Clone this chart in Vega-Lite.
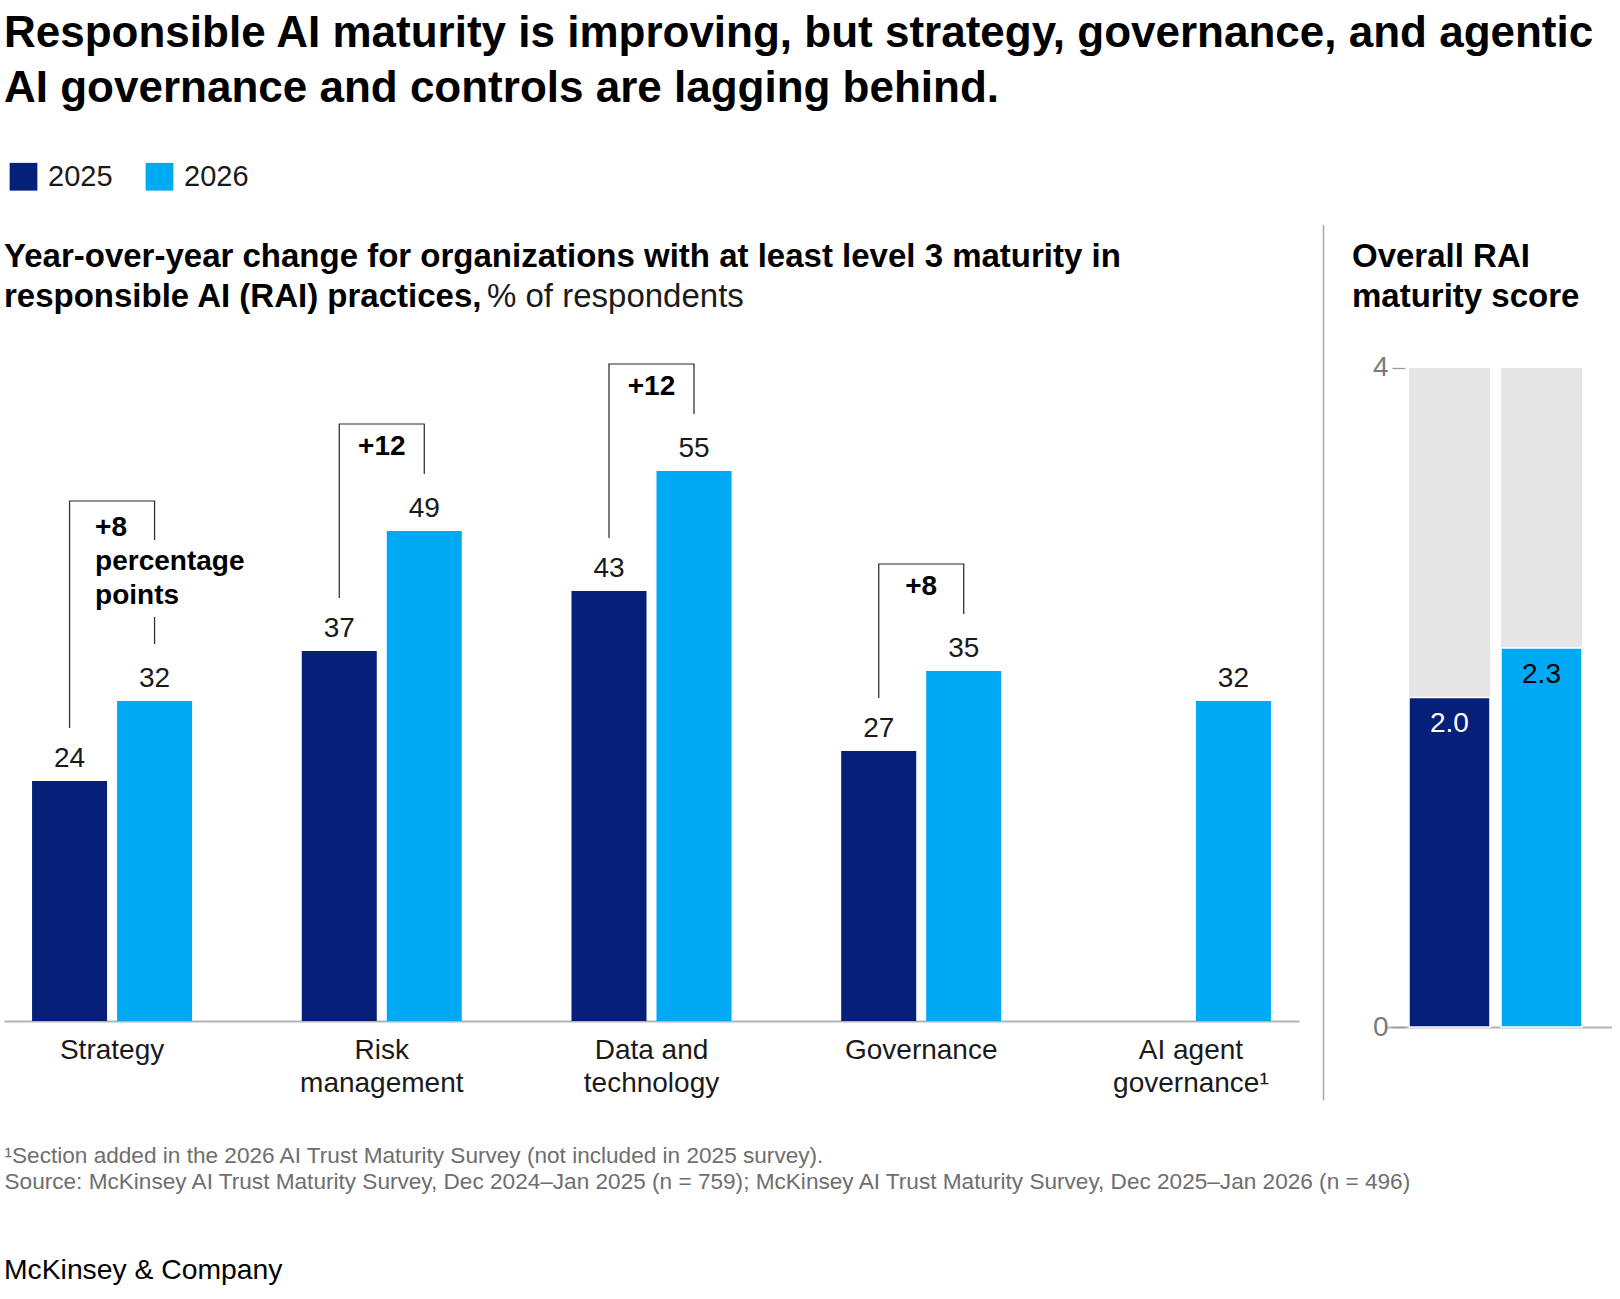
{
  "$schema": "https://vega.github.io/schema/vega-lite/v6.json",
  "padding": {"left": 4, "top": 12, "right": 0, "bottom": 10},
  "background": "white",
  "config": {
    "font": "Liberation Sans",
    "view": {"stroke": null},
    "axis": {"grid": false}
  },
  "datasets": {
    "rai": [
      {"category": "Strategy", "year": "2025", "value": 24},
      {"category": "Strategy", "year": "2026", "value": 32},
      {"category": "Risk management", "year": "2025", "value": 37},
      {"category": "Risk management", "year": "2026", "value": 49},
      {"category": "Data and technology", "year": "2025", "value": 43},
      {"category": "Data and technology", "year": "2026", "value": 55},
      {"category": "Governance", "year": "2025", "value": 27},
      {"category": "Governance", "year": "2026", "value": 35},
      {"category": "AI agent governance", "year": "2026", "value": 32}
    ],
    "change": [
      {"category": "Strategy", "from": 24, "to": 32, "label": "+8"},
      {"category": "Risk management", "from": 37, "to": 49, "label": "+12"},
      {"category": "Data and technology", "from": 43, "to": 55, "label": "+12"},
      {"category": "Governance", "from": 27, "to": 35, "label": "+8"}
    ],
    "score": [
      {"year": "2025", "score": 2.0},
      {"year": "2026", "score": 2.3}
    ]
  },
  "title": {
    "text": ["Responsible AI maturity is improving, but strategy, governance, and agentic", "AI governance and controls are lagging behind."],
    "anchor": "start",
    "fontSize": 44,
    "fontWeight": "bold",
    "lineHeight": 55,
    "color": "#000000",
    "offset": 51
  },
  "vconcat": [
    {
      "title": {"text": "McKinsey & Company", "orient": "bottom", "anchor": "start", "frame": "group", "fontSize": 28.3, "fontWeight": "normal", "color": "#000000", "offset": 64},
      "bounds": "flush",
      "spacing": 24.5,
      "hconcat": [
        {
          "width": 1295,
          "height": 658,
          "data": {"name": "rai"},
          "title": {
            "text": ["Year-over-year change for organizations with at least level 3 maturity in", "responsible AI (RAI) practices,"],
            "anchor": "start",
            "frame": "group",
            "fontSize": 33,
            "fontWeight": "bold",
            "lineHeight": 40,
            "color": "#000000",
            "offset": 49
          },
          "encoding": {
            "x": {
              "field": "category",
              "type": "nominal",
              "sort": null,
              "scale": {"paddingInner": 0.4067, "paddingOuter": 0.104},
              "axis": {
                "title": ["¹Section added in the 2026 AI Trust Maturity Survey (not included in 2025 survey).", "\u00a0Source: McKinsey AI Trust Maturity Survey, Dec 2024–Jan 2025 (n = 759); McKinsey AI Trust Maturity Survey, Dec 2025–Jan 2026 (n = 496)"],
                "titleAnchor": "start",
                "titleAlign": "left",
                "titleFontSize": 22.6,
                "titleFontWeight": "normal",
                "titleColor": "#6e6e6e",
                "titleLineHeight": 26,
                "titlePadding": 47,
                "labelExpr": "datum.value === 'Risk management' ? ['Risk', 'management'] : datum.value === 'Data and technology' ? ['Data and', 'technology'] : datum.value === 'AI agent governance' ? ['AI agent', 'governance¹'] : datum.value",
                "labelFontSize": 28,
                "labelColor": "#1a1a1a",
                "labelLineHeight": 33.5,
                "labelPadding": 15,
                "labelAngle": 0,
                "ticks": false,
                "tickSize": 0,
                "domainColor": "#b3b3b3",
                "domainWidth": 2
              }
            }
          },
          "layer": [
            {
              "mark": {"type": "bar"},
              "encoding": {
                "xOffset": {"field": "year", "type": "nominal", "scale": {"paddingInner": 0.1176}},
                "y": {"field": "value", "type": "quantitative", "scale": {"domain": [0, 65.8], "nice": false, "zero": true}, "axis": null},
                "color": {
                  "field": "year",
                  "type": "nominal",
                  "scale": {"domain": ["2025", "2026"], "range": ["#061F78", "#00A9F4"]},
                  "legend": {
                    "orient": "top",
                    "direction": "horizontal",
                    "title": null,
                    "symbolType": "square",
                    "symbolSize": 770,
                    "symbolStrokeWidth": 0,
                    "symbolOpacity": 1,
                    "labelFontSize": 29,
                    "labelColor": "#1a1a1a",
                    "labelOffset": 10,
                    "columnPadding": 27,
                    "symbolOffset": 5,
                    "offset": 32.5
                  }
                }
              }
            },
            {
              "mark": {"type": "text", "baseline": "alphabetic", "dy": -14, "fontSize": 28, "color": "#1a1a1a"},
              "encoding": {
                "xOffset": {"field": "year", "type": "nominal"},
                "y": {"field": "value", "type": "quantitative"},
                "text": {"field": "value", "type": "quantitative"}
              }
            },
            {
              "data": {"name": "change"},
              "transform": [{"filter": "datum.category !== 'Strategy'"}],
              "mark": {"type": "rule", "color": "#333333", "strokeWidth": 1.3, "xOffset": -42.5, "yOffset": -53, "y2Offset": -107},
              "encoding": {"y": {"field": "from", "type": "quantitative"}, "y2": {"field": "to"}}
            },
            {
              "data": {"name": "change"},
              "transform": [{"filter": "datum.category !== 'Strategy'"}],
              "mark": {"type": "rule", "color": "#333333", "strokeWidth": 1.3, "xOffset": 42.5, "yOffset": -57, "y2Offset": -107},
              "encoding": {"y": {"field": "to", "type": "quantitative"}, "y2": {"field": "to"}}
            },
            {
              "data": {"name": "change"},
              "transform": [{"filter": "datum.category !== 'Strategy'"}],
              "mark": {"type": "tick", "orient": "horizontal", "color": "#333333", "thickness": 1.3, "size": 86, "yOffset": -107},
              "encoding": {"y": {"field": "to", "type": "quantitative"}}
            },
            {
              "data": {"name": "change"},
              "transform": [{"filter": "datum.category !== 'Strategy'"}],
              "mark": {"type": "text", "baseline": "middle", "align": "center", "dy": -84, "fontSize": 28, "fontWeight": "bold", "color": "#000000"},
              "encoding": {"y": {"field": "to", "type": "quantitative"}, "text": {"field": "label"}}
            },
            {
              "data": {"name": "change"},
              "transform": [{"filter": "datum.category === 'Strategy'"}],
              "mark": {"type": "rule", "color": "#333333", "strokeWidth": 1.3, "xOffset": -42.5, "yOffset": -53, "y2Offset": -200},
              "encoding": {"y": {"field": "from", "type": "quantitative"}, "y2": {"field": "to"}}
            },
            {
              "data": {"name": "change"},
              "transform": [{"filter": "datum.category === 'Strategy'"}],
              "mark": {"type": "rule", "color": "#333333", "strokeWidth": 1.3, "xOffset": 42.5, "yOffset": -161, "y2Offset": -200},
              "encoding": {"y": {"field": "to", "type": "quantitative"}, "y2": {"field": "to"}}
            },
            {
              "data": {"name": "change"},
              "transform": [{"filter": "datum.category === 'Strategy'"}],
              "mark": {"type": "rule", "color": "#333333", "strokeWidth": 1.3, "xOffset": 42.5, "yOffset": -57, "y2Offset": -84},
              "encoding": {"y": {"field": "to", "type": "quantitative"}, "y2": {"field": "to"}}
            },
            {
              "data": {"name": "change"},
              "transform": [{"filter": "datum.category === 'Strategy'"}],
              "mark": {"type": "tick", "orient": "horizontal", "color": "#333333", "thickness": 1.3, "size": 86, "yOffset": -200},
              "encoding": {"y": {"field": "to", "type": "quantitative"}}
            },
            {
              "data": {"name": "change"},
              "transform": [{"filter": "datum.category === 'Strategy'"}],
              "mark": {"type": "text", "baseline": "alphabetic", "align": "left", "dx": -17, "dy": -165, "fontSize": 28, "fontWeight": "bold", "color": "#000000"},
              "encoding": {"y": {"field": "to", "type": "quantitative"}, "text": {"field": "label"}}
            },
            {
              "data": {"name": "change"},
              "transform": [{"filter": "datum.category === 'Strategy'"}],
              "mark": {"type": "text", "text": ["percentage", "points"], "baseline": "alphabetic", "align": "left", "dx": -17, "dy": -131, "lineHeight": 34, "fontSize": 28, "fontWeight": "bold", "color": "#000000"},
              "encoding": {"y": {"field": "to", "type": "quantitative"}}
            }
          ]
        },
        {
          "width": 39,
          "height": 658,
          "data": {"values": [{"k": 1}]},
          "title": {"text": "% of respondents", "anchor": "start", "frame": "group", "dx": -836.5, "offset": -89.6, "fontSize": 33, "fontWeight": "normal", "color": "#1a1a1a"},
          "mark": {"type": "rule", "color": "#a6a6a6", "strokeWidth": 1.5, "xOffset": -19.5, "yOffset": 79.3, "y2Offset": -137.7},
          "encoding": {
            "y": {"datum": 0, "type": "quantitative", "scale": {"domain": [0, 1], "nice": false}, "axis": null},
            "y2": {"datum": 1}
          }
        },
        {
          "width": 225,
          "height": 664,
          "data": {"name": "score"},
          "title": {"text": ["Overall RAI", "maturity score"], "anchor": "start", "frame": "group", "dx": -35, "fontSize": 33, "fontWeight": "bold", "lineHeight": 40, "color": "#000000", "offset": 40.3},
          "encoding": {
            "x": {
              "field": "year",
              "type": "nominal",
              "scale": {"paddingInner": 0.12, "paddingOuter": 0.2826, "align": 0.423},
              "axis": {"labels": false, "ticks": false, "title": null, "domainColor": "#b3b3b3", "domainWidth": 2}
            }
          },
          "layer": [
            {
              "mark": {"type": "bar", "color": "#e6e6e6"},
              "encoding": {
                "y": {
                  "datum": 4,
                  "type": "quantitative",
                  "scale": {"domain": [0, 4.03], "nice": false},
                  "axis": {"values": [0, 4], "format": "d", "domain": false, "ticks": true, "tickSize": 13, "tickColor": "#999999", "tickWidth": 1.3, "labelColor": "#7a7a7a", "labelFontSize": 28, "labelPadding": 4, "offset": -18, "title": null, "grid": false}
                }
              }
            },
            {
              "mark": {"type": "bar", "stroke": "#ffffff", "strokeWidth": 1.5},
              "encoding": {
                "y": {"field": "score", "type": "quantitative"},
                "color": {"field": "year", "type": "nominal"}
              }
            },
            {
              "mark": {"type": "text", "baseline": "alphabetic", "dy": 34.5, "fontSize": 28},
              "encoding": {
                "y": {"field": "score", "type": "quantitative"},
                "text": {"field": "score", "type": "quantitative", "format": ".1f"},
                "color": {"condition": {"test": "datum.year === '2025'", "value": "#ffffff"}, "value": "#000000"}
              }
            }
          ]
        }
      ]
    }
  ]
}
